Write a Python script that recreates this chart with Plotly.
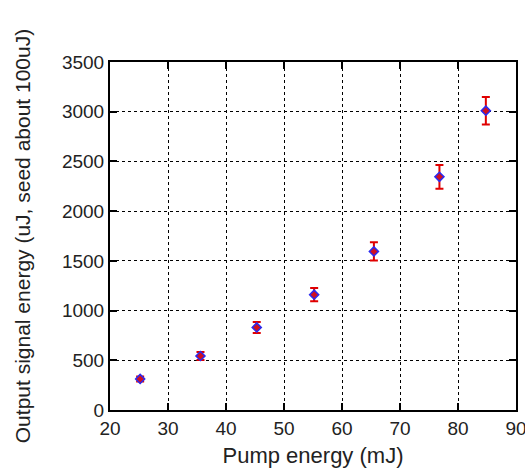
import plotly.graph_objects as go

pump_mj = [25.2, 35.6, 45.3, 55.2, 65.5, 76.8, 84.8]
signal_uj = [312, 543, 830, 1160, 1595, 2345, 3010]
signal_err = [25, 40, 55, 67, 92, 120, 138]

FONT = "Liberation Sans, Arial, sans-serif"

fig = go.Figure()
fig.add_trace(go.Scatter(
    x=pump_mj, y=signal_uj, mode="markers",
    error_y=dict(type="data", array=signal_err, color="#e00000", thickness=2, width=4),
    marker=dict(symbol="diamond", size=7, color="#d01020", line=dict(color="#2a2af0", width=1.5)),
    showlegend=False,
))

axis_common = dict(
    showline=True, linecolor="black", linewidth=2, mirror="ticks",
    ticks="inside", ticklen=7, tickwidth=2, tickcolor="black",
    showgrid=True, gridcolor="black", griddash="dot", gridwidth=1,
    zeroline=False, automargin=False, ticklabeloverflow="allow",
    tickfont=dict(family=FONT, size=19, color="#222"),
)
fig.update_xaxes(range=[20, 90], dtick=10, title=dict(text="Pump energy (mJ)", standoff=13,
                 font=dict(family=FONT, size=22, color="#222")), **axis_common)
fig.update_yaxes(range=[0, 3500], dtick=500, title=dict(text="Output signal energy (uJ, seed about 100uJ)", standoff=26,
                 font=dict(family=FONT, size=21, color="#222")), **axis_common)
fig.update_layout(
    width=525, height=468,
    margin=dict(l=110, r=9, t=62, b=58),
    plot_bgcolor="white", paper_bgcolor="white",
)
fig.write_html("out.html", config={"displayModeBar": False},
               post_script="document.body.style.margin='0px';document.body.style.overflow='hidden';")
